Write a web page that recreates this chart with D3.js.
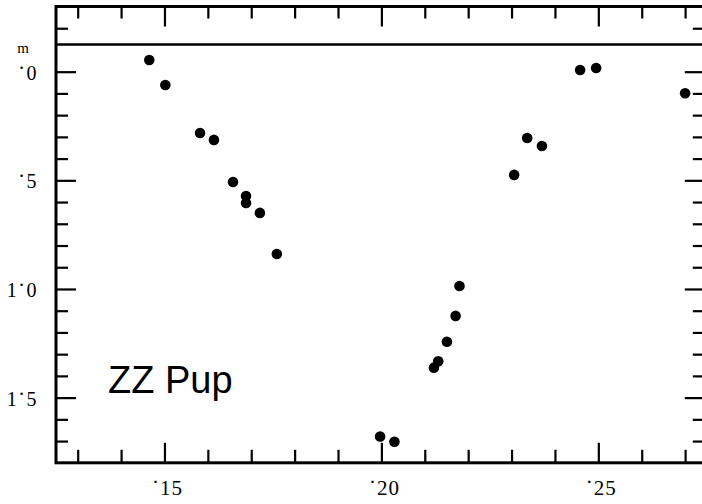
<!DOCTYPE html>
<html>
<head>
<meta charset="utf-8">
<script src="https://cdn.jsdelivr.net/npm/d3@7/dist/d3.min.js"></script>
<style>
  html, body { margin: 0; padding: 0; background: #fff; }
  svg { display: block; }
  .lab { font-family: "Liberation Serif", "DejaVu Serif", serif; font-variant-numeric: oldstyle-nums; fill: #000; }
</style>
</head>
<body>
<svg id="chart" width="702" height="504"></svg>
<script>
// ---- data (phase, magnitude) ----
const phase = [0.1465, 0.1502, 0.1582, 0.1614, 0.1658, 0.1688, 0.1688, 0.1720, 0.1759,
               0.1997, 0.2030, 0.2121, 0.2131, 0.2151, 0.2171, 0.2180,
               0.2306, 0.2336, 0.2370, 0.2458, 0.2495, 0.2700];
const mag   = [-0.054, 0.061, 0.282, 0.314, 0.508, 0.572, 0.604, 0.650, 0.839,
               1.679, 1.703, 1.362, 1.333, 1.243, 1.124, 0.986,
               0.475, 0.305, 0.342, -0.008, -0.017, 0.099];

// ---- ticks and labels ----
const xTicks = [0.13, 0.14, 0.15, 0.16, 0.17, 0.18, 0.19, 0.20, 0.21, 0.22, 0.23, 0.24, 0.25, 0.26, 0.27];
const xMajor = [0.15, 0.20, 0.25];
const xLabels = ["15", "20", "25"];
const yTicks = [-0.2, 0, 0.1, 0.2, 0.3, 0.4, 0.5, 0.6, 0.7, 0.8, 0.9, 1.0, 1.1, 1.2, 1.3, 1.4, 1.5, 1.6, 1.7];
const yMajor = [0, 0.5, 1.0, 1.5];
const yLabelsInt = ["", "", "1", "1"];
const yLabelsFrac = ["0", "5", "0", "5"];
const starName = "ZZ Pup";
const unitLabel = "m";

const svg = d3.select("#chart");
const x = d3.scaleLinear().domain([0.125, 0.275]).range([56, 706.8]);
const y = d3.scaleLinear().domain([-0.3, 1.8]).range([6.5, 462.8]);

const isMajor = (arr, v) => arr.some(m => Math.abs(m - v) < 1e-9);

// frame
svg.append("rect")
  .attr("x", x(0.125)).attr("y", y(-0.3))
  .attr("width", x(0.275) - x(0.125)).attr("height", y(1.8) - y(-0.3))
  .attr("fill", "none").attr("stroke", "#000").attr("stroke-width", 3);

// separator line
svg.append("line")
  .attr("x1", x(0.125)).attr("x2", x(0.275))
  .attr("y1", y(-0.125)).attr("y2", y(-0.125))
  .attr("stroke", "#000").attr("stroke-width", 2.4);

function styleAxis(g, majors, minorLen, majorLen, dim) {
  g.select(".domain").remove();
  g.selectAll(".tick line")
    .attr("stroke", "#000").attr("stroke-width", 2.2)
    .attr(dim, d => isMajor(majors, d) ? majorLen : minorLen);
  g.selectAll(".tick text").remove();
}

// bottom ticks (pointing up)
svg.append("g").attr("transform", `translate(0,${y(1.8)})`)
  .call(d3.axisBottom(x).tickValues(xTicks).tickSize(-13).tickFormat(""))
  .call(g => styleAxis(g, xMajor, -13, -20, "y2"));
// top ticks (pointing down)
svg.append("g").attr("transform", `translate(0,${y(-0.3)})`)
  .call(d3.axisTop(x).tickValues(xTicks).tickSize(-12).tickFormat(""))
  .call(g => styleAxis(g, xMajor, 12, 20, "y2"));
// left ticks
svg.append("g").attr("transform", `translate(${x(0.125)},0)`)
  .call(d3.axisLeft(y).tickValues(yTicks).tickSize(-12).tickFormat(""))
  .call(g => styleAxis(g, yMajor, 12, 20, "x2"));
// right ticks
svg.append("g").attr("transform", `translate(${x(0.275)},0)`)
  .call(d3.axisRight(y).tickValues(yTicks).tickSize(-14).tickFormat(""))
  .call(g => styleAxis(g, yMajor, -14, -22, "x2"));

// x labels
xMajor.forEach((v, i) => {
  const t = svg.append("text").attr("class", "lab")
    .attr("x", x(v) + 3).attr("y", 495)
    .attr("text-anchor", "middle").attr("font-size", 21)
    .attr("letter-spacing", 1);
  t.append("tspan").attr("dy", -6).text("·");
  t.append("tspan").attr("dy", 6).text(xLabels[i]);
});

// y labels
yMajor.forEach((v, i) => {
  const t = svg.append("text").attr("class", "lab")
    .attr("x", 38).attr("y", y(v) + 8)
    .attr("text-anchor", "end").attr("font-size", 20)
    .attr("letter-spacing", 1.5);
  t.append("tspan").text(yLabelsInt[i]);
  t.append("tspan").attr("dy", -5).text("·");
  t.append("tspan").attr("dy", 5).text(yLabelsFrac[i]);
});
svg.append("text").attr("class", "lab")
  .attr("x", 23).attr("y", 53).attr("text-anchor", "middle")
  .attr("font-size", 15).text(unitLabel);

// star name
svg.append("text")
  .attr("x", 108).attr("y", 393)
  .attr("font-family", "Liberation Sans, Arial, sans-serif")
  .attr("font-size", 38).attr("fill", "#000")
  .text(starName);

// points
svg.append("g").selectAll("circle")
  .data(phase.map((p, i) => ({ p, m: mag[i] })))
  .join("circle")
  .attr("cx", d => x(d.p)).attr("cy", d => y(d.m))
  .attr("r", 5.3).attr("fill", "#000");
</script>
</body>
</html>
